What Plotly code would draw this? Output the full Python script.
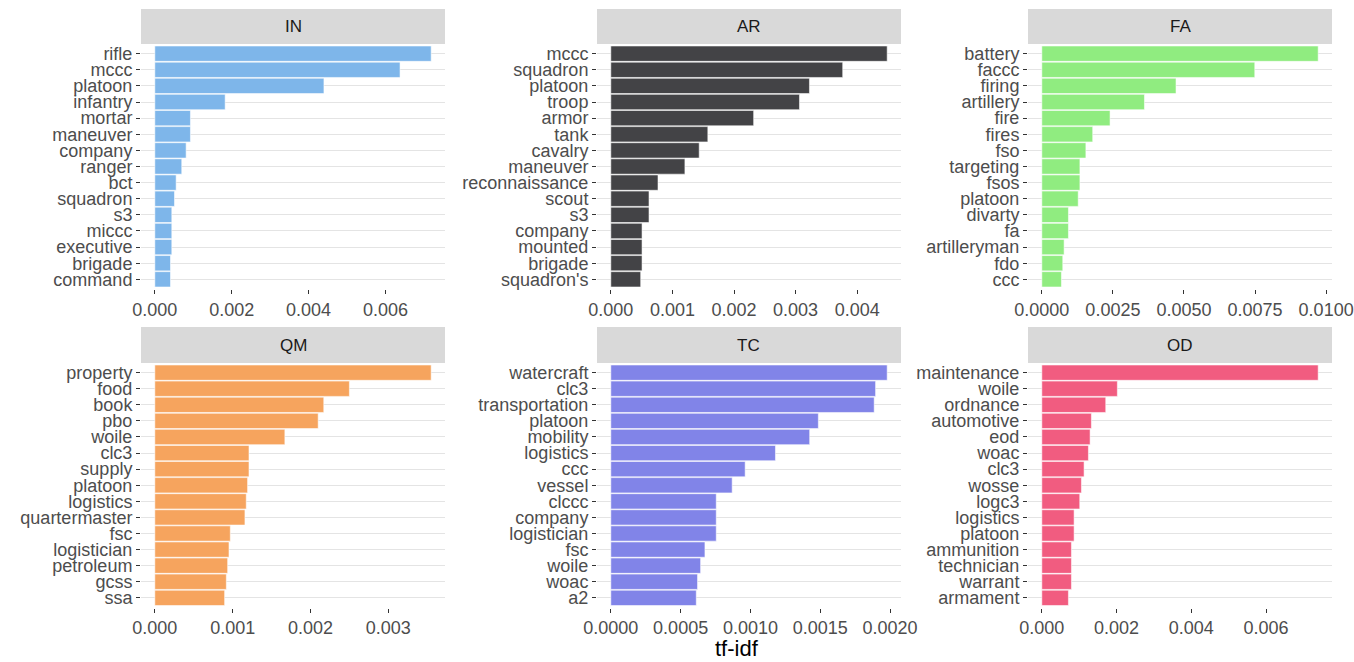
import plotly.graph_objects as go

# tf-idf of the top terms for each branch
in_terms = ["rifle", "mccc", "platoon", "infantry", "mortar", "maneuver", "company", "ranger",
            "bct", "squadron", "s3", "miccc", "executive", "brigade", "command"]
in_vals = [0.00719, 0.00638, 0.00440, 0.00183, 0.000927, 0.000927, 0.000815, 0.000701,
           0.000555, 0.000512, 0.000442, 0.000442, 0.000442, 0.000408, 0.000408]

ar_terms = ["mccc", "squadron", "platoon", "troop", "armor", "tank", "cavalry", "maneuver",
            "reconnaissance", "scout", "s3", "company", "mounted", "brigade", "squadron's"]
ar_vals = [0.004487, 0.003765, 0.003225, 0.003063, 0.002319, 0.001575, 0.001435, 0.001203,
           0.000766, 0.000620, 0.000620, 0.000507, 0.000507, 0.000507, 0.000485]

fa_terms = ["battery", "faccc", "firing", "artillery", "fire", "fires", "fso", "targeting",
            "fsos", "platoon", "divarty", "fa", "artilleryman", "fdo", "ccc"]
fa_vals = [0.00972, 0.00749, 0.00472, 0.00361, 0.00240, 0.00179, 0.00155, 0.00134,
           0.00134, 0.00128, 0.000936, 0.000936, 0.000784, 0.000737, 0.000690]

qm_terms = ["property", "food", "book", "pbo", "woile", "clc3", "supply", "platoon",
            "logistics", "quartermaster", "fsc", "logistician", "petroleum", "gcss", "ssa"]
qm_vals = [0.003551, 0.002500, 0.002171, 0.002099, 0.001671, 0.001210, 0.001210, 0.001192,
           0.001175, 0.001158, 0.000970, 0.000953, 0.000936, 0.000919, 0.000897]

tc_terms = ["watercraft", "clc3", "transportation", "platoon", "mobility", "logistics", "ccc",
            "vessel", "clccc", "company", "logistician", "fsc", "woile", "woac", "a2"]
tc_vals = [0.001979, 0.001896, 0.001886, 0.001486, 0.001424, 0.001179, 0.000962,
           0.000869, 0.000755, 0.000755, 0.000755, 0.000674, 0.000643, 0.000621, 0.000612]

od_terms = ["maintenance", "woile", "ordnance", "automotive", "eod", "woac", "clc3", "wosse",
            "logc3", "logistics", "platoon", "ammunition", "technician", "warrant", "armament"]
od_vals = [0.007396, 0.002022, 0.001711, 0.001327, 0.001292, 0.001247, 0.001131, 0.001060,
           0.001015, 0.000864, 0.000864, 0.000793, 0.000793, 0.000793, 0.000712]

branches = ["IN", "AR", "FA", "QM", "TC", "OD"]
colors = ["#7EB6EA", "#434346", "#90EC80", "#F6A45E", "#8184E8", "#F15C80"]
tick_steps = [0.002, 0.001, 0.0025, 0.001, 0.0005, 0.002]
tick_formats = [".3f", ".3f", ".4f", ".3f", ".4f", ".3f"]
terms = [in_terms, ar_terms, fa_terms, qm_terms, tc_terms, od_terms]
values = [in_vals, ar_vals, fa_vals, qm_vals, tc_vals, od_vals]

W, H = 1354, 662
FONT = "Liberation Sans, Arial, sans-serif"
col_px = [(141, 445), (597, 901), (1028, 1332)]
row_px = [((9, 44), (44, 289)), ((327, 363), (363, 607.5))]

fig = go.Figure()
shapes = []
annotations = []
layout_axes = {}

for i, name in enumerate(branches):
    r, c = divmod(i, 3)
    x0, x1 = col_px[c]
    (s0, s1), (p0, p1) = row_px[r]
    n = i + 1
    xa = "x" if n == 1 else f"x{n}"
    ya = "y" if n == 1 else f"y{n}"
    vmax = max(values[i])
    ticks = []
    t = 0.0
    while t <= vmax * 1.05 + 1e-12:
        ticks.append(round(t, 6))
        t += tick_steps[i]

    fig.add_trace(go.Bar(
        x=values[i], y=terms[i], orientation="h",
        marker=dict(color=colors[i], line=dict(color="rgba(255,255,255,0.55)", width=1)),
        width=0.95, xaxis=xa, yaxis=ya, showlegend=False,
        hovertemplate="%{y}: %{x:.5f}<extra>" + name + "</extra>",
    ))

    axis_font = dict(family=FONT, size=18, color="#4D4D4D")
    layout_axes["xaxis" if n == 1 else f"xaxis{n}"] = dict(
        domain=[x0 / W, x1 / W], anchor=ya, automargin=False,
        range=[-0.05 * vmax, 1.05 * vmax],
        tickmode="array", tickvals=ticks, tickformat=tick_formats[i],
        showgrid=False, zeroline=False, showline=False,
        ticks="outside", ticklen=4, tickwidth=1, tickcolor="#333333",
        tickfont=axis_font, fixedrange=True,
    )
    layout_axes["yaxis" if n == 1 else f"yaxis{n}"] = dict(
        domain=[1 - p1 / H, 1 - p0 / H], anchor=xa, automargin=False,
        type="category", categoryorder="array", categoryarray=terms[i],
        tickmode="array", tickvals=terms[i], ticktext=terms[i],
        range=[len(terms[i]) - 0.4, -0.6],
        showgrid=True, gridcolor="#E4E4E4", gridwidth=1,
        zeroline=False, showline=False,
        ticks="outside", ticklen=4, tickwidth=1, tickcolor="#333333",
        tickfont=axis_font, fixedrange=True,
    )

    # facet strip
    shapes.append(dict(type="rect", xref="paper", yref="paper",
                       x0=x0 / W, x1=x1 / W, y0=1 - s1 / H, y1=1 - s0 / H,
                       fillcolor="#D9D9D9", line=dict(width=0), layer="below"))
    annotations.append(dict(text=name, xref="paper", yref="paper",
                            x=(x0 + x1) / 2 / W, y=1 - (s0 + s1) / 2 / H,
                            xanchor="center", yanchor="middle", showarrow=False,
                            font=dict(family=FONT, size=17, color="#1A1A1A")))

annotations.append(dict(text="tf-idf", xref="paper", yref="paper",
                        x=(141 + 1332) / 2 / W, y=1 - 648 / H,
                        xanchor="center", yanchor="middle", showarrow=False,
                        font=dict(family=FONT, size=22, color="#000000")))

fig.update_layout(
    width=W, height=H,
    margin=dict(l=0, r=0, t=0, b=0, autoexpand=False),
    paper_bgcolor="white", plot_bgcolor="white",
    bargap=0.05,
    shapes=shapes, annotations=annotations,
    **layout_axes,
)

fig.write_html("out.html")
